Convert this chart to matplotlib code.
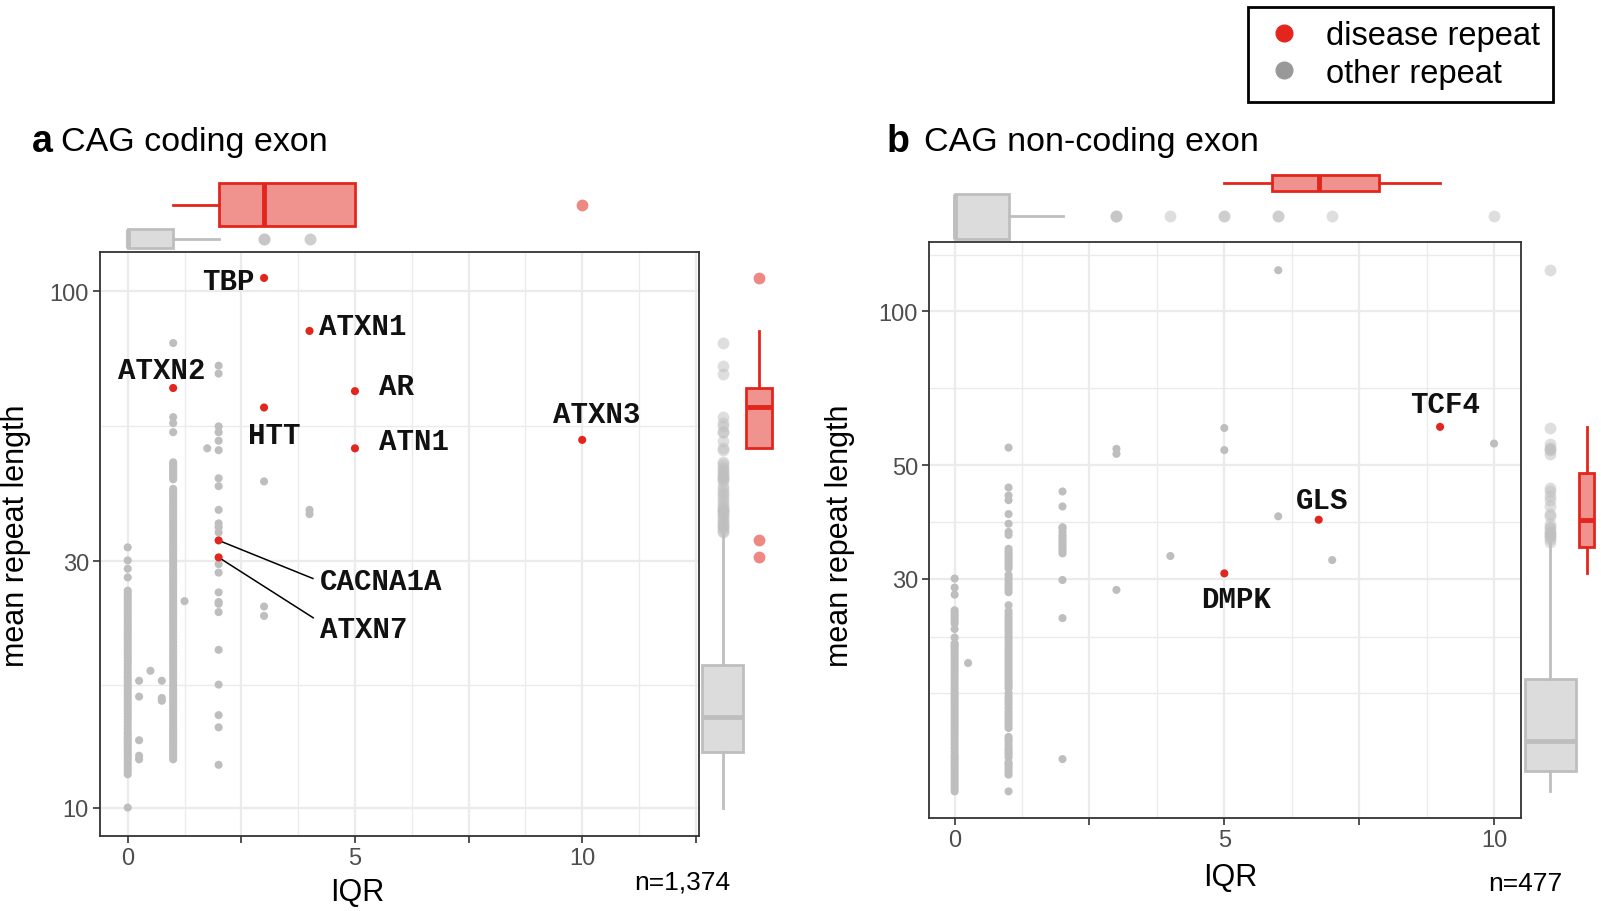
import numpy as np
import matplotlib
matplotlib.use("Agg")
import matplotlib.pyplot as plt
from matplotlib import cbook
from matplotlib.lines import Line2D
from matplotlib.ticker import FixedLocator, NullFormatter

plt.rcParams['font.family'] = ['Liberation Sans', 'DejaVu Sans']
NARROW = ['Liberation Sans Narrow', 'Liberation Sans', 'DejaVu Sans']

RED = '#E3261D'
GRAY = '#BEBEBE'

# ---- panel a: CAG coding exon ----
a_genes = ['TBP', 'ATXN1', 'ATXN2', 'AR', 'HTT', 'ATN1', 'ATXN3', 'CACNA1A', 'ATXN7']
a_iqr = [3, 4, 1, 5, 3, 5, 10, 2, 2]
a_len = [106, 83.7, 64.9, 64.0, 59.5, 49.6, 51.5, 32.9, 30.5]

# other repeats, IQR = 0 / 1 / 2 columns (mean repeat lengths)
a_col0 = [10.0, 11.6, 11.75, 11.9, 12.05, 12.2, 12.35, 12.5, 12.65, 12.8, 12.95, 13.1,
          13.25, 13.4, 13.55, 13.7, 13.85, 14.0, 14.2, 14.4, 14.6, 14.8, 15.0, 15.2, 15.4,
          15.6, 15.8, 16.0, 16.2, 16.4, 16.6, 16.8, 17.0, 17.2, 17.4, 17.6, 17.8, 18.0,
          18.25, 18.5, 18.75, 19.0, 19.25, 19.5, 19.75, 20.0, 20.25, 20.5, 20.75, 21.0,
          21.25, 21.5, 21.75, 22.0, 22.3, 22.6, 22.9, 23.2, 23.5, 23.8, 24.1, 24.4, 24.7,
          25.0, 25.3, 25.6, 25.95, 26.3, 27.9, 29.0, 30.1, 31.9]
a_col1 = [12.4, 12.55, 12.7, 12.85, 13.0, 13.15, 13.3, 13.45, 13.6, 13.75, 13.9, 14.05,
          14.2, 14.4, 14.6, 14.8, 15.0, 15.2, 15.4, 15.6, 15.8, 16.0, 16.2, 16.4, 16.6,
          16.8, 17.0, 17.25, 17.5, 17.75, 18.0, 18.25, 18.5, 18.75, 19.0, 19.25, 19.5,
          19.75, 20.0, 20.3, 20.6, 20.9, 21.2, 21.5, 21.8, 22.1, 22.4, 22.7, 23.0, 23.3,
          23.6, 23.9, 24.2, 24.5, 24.8, 25.15, 25.5, 25.85, 26.2, 26.55, 26.9, 27.25, 27.6,
          27.95, 28.3, 28.65, 29.0, 29.4, 29.8, 30.2, 30.6, 31.0, 31.4, 31.8, 32.2, 32.6,
          33.0, 33.45, 33.9, 34.35, 34.8, 35.25, 35.7, 36.15, 36.6, 37.05, 37.5, 37.95,
          38.4, 38.9, 39.4, 39.9, 40.4, 40.9, 41.4, 43.2, 43.6, 44.0, 44.4, 44.8, 45.25,
          45.7, 46.15, 46.6, 53.3, 55.5, 57.0, 79.3]
a_col2 = [71.7, 69.2, 54.7, 53.3, 51.3, 49.2, 43.4, 41.9, 37.7, 35.5, 34.9, 34.1, 29.6,
          28.5, 26.1, 25.0, 24.8, 23.9, 20.2, 17.3, 15.1, 14.3, 12.1]
a_misc_iqr = [0.25, 0.25, 0.25, 0.25, 0.25, 0.5, 0.75, 0.75, 0.75, 1.25, 1.75, 3, 3, 3, 4, 4]
a_misc_len = [17.6, 16.4, 13.5, 12.6, 12.4, 18.4, 17.6, 16.3, 16.1, 25.1, 49.6, 42.8, 24.5,
              23.5, 37.7, 37.0]
# other-repeat box summaries (q1, median, q3, low whisker, high whisker)
a_other_len_box = [12.8, 15.0, 18.9, 10.0, 34.0]
a_other_iqr_box = [0, 0, 1, 0, 2]

# ---- panel b: CAG non-coding exon ----
b_genes = ['TCF4', 'GLS', 'DMPK']
b_iqr = [9, 6.75, 5]
b_len = [59.4, 39.1, 30.7]

b_col0 = [11.5, 11.65, 11.8, 11.95, 12.1, 12.25, 12.4, 12.55, 12.7, 12.85, 13.0, 13.15,
          13.3, 13.45, 13.6, 13.8, 14.0, 14.2, 14.4, 14.6, 14.8, 15.0, 15.2, 15.4, 15.6,
          15.8, 16.0, 16.2, 16.4, 16.6, 16.8, 17.0, 17.2, 17.4, 17.6, 17.8, 18.0, 18.25,
          18.5, 18.75, 19.0, 19.25, 19.5, 19.75, 20.0, 20.25, 20.5, 20.75, 21.0, 21.25,
          21.5, 21.75, 22.0, 22.2, 22.4, 23.0, 23.9, 24.5, 24.8, 25.1, 25.4, 25.7, 26.0,
          27.9, 28.8, 30.0]
b_col1 = [11.5, 12.4, 12.55, 12.7, 12.85, 13.0, 13.1, 13.4, 13.55, 13.7, 13.85, 14.0,
          14.2, 14.4, 14.55, 14.7, 15.3, 15.5, 15.7, 15.9, 16.1, 16.3, 16.5, 16.75, 17.0,
          17.2, 17.4, 17.65, 17.9, 18.3, 18.5, 18.7, 18.9, 19.1, 19.35, 19.6, 19.85, 20.1,
          20.35, 20.6, 20.85, 21.1, 21.35, 21.6, 21.9, 22.2, 22.5, 22.8, 23.1, 23.4, 23.7,
          24.0, 24.3, 24.6, 24.9, 25.2, 25.55, 25.9, 26.6, 28.2, 28.55, 28.9, 29.3, 29.7,
          30.1, 30.5, 31.4, 31.75, 32.1, 32.45, 32.8, 33.15, 33.5, 33.9, 34.3, 36.5, 37.0,
          38.4, 40.1, 42.7, 43.6, 45.2, 54.1]
b_col2 = [13.3, 25.1, 29.8, 33.6, 34.0, 34.3, 34.65, 35.0, 35.4, 35.8, 36.15, 36.5,
          37.05, 37.6, 37.8, 41.5, 44.4]
b_misc_iqr = [0.25, 3, 3, 3, 4, 5, 5, 6, 6, 7, 10]
b_misc_len = [20.5, 53.8, 52.6, 28.5, 33.2, 59.1, 53.5, 120.3, 39.7, 32.6, 55.1]
b_other_len_box = [12.6, 14.4, 19.1, 11.5, 35.3]
b_other_iqr_box = [0, 0, 1, 0, 2]


def other_points(c0, c1, c2, miq, mlen):
    x = np.concatenate([np.zeros(len(c0)), np.ones(len(c1)), np.full(len(c2), 2.0), miq])
    y = np.concatenate([c0, c1, c2, mlen])
    return x, y


def stats_from_box(box, fl):
    q1, med, q3, lo, hi = box
    fl = np.asarray(fl, dtype=float)
    return dict(q1=q1, med=med, q3=q3, whislo=lo, whishi=hi, fliers=fl[(fl > hi) | (fl < lo)])


def red_stats(vals, log=False):
    v = np.log10(vals) if log else np.asarray(vals, dtype=float)
    s = cbook.boxplot_stats(v)[0]
    if log:
        for k in ['q1', 'med', 'q3', 'whislo', 'whishi']:
            s[k] = 10 ** s[k]
        s['fliers'] = 10 ** s['fliers']
    return s


def draw_box(ax, st, pos, width, red, orient):
    if red:
        fc, ec, fl = (0.89, 0.15, 0.11, 0.5), RED, (0.89, 0.15, 0.11, 0.55)
    else:
        fc, ec, fl = '#DCDCDC', GRAY, (0.75, 0.75, 0.75, 0.5)
    ax.bxp([st], positions=[pos], widths=[width], orientation=orient,
           patch_artist=True, showcaps=False,
           boxprops=dict(facecolor=fc, edgecolor=ec, linewidth=2),
           whiskerprops=dict(color=ec, linewidth=2),
           medianprops=dict(color=ec, linewidth=3.5),
           flierprops=dict(marker='o', markersize=8.5, markerfacecolor=fl,
                           markeredgecolor='none'))


def setup_main(ax, xlim, ylim, xmajor, ymajor, yminor):
    ax.set_yscale('log')
    ax.set_xlim(*xlim)
    ax.set_ylim(*ylim)
    ax.set_xticks(xmajor)
    ax.set_xticklabels([('%g' % t) if t in (0, 5, 10) else '' for t in xmajor],
                       fontfamily=NARROW, fontsize=17, color='#4D4D4D')
    ax.set_xticks([t + 1.25 for t in xmajor if t + 1.25 < xlim[1]], minor=True)
    ax.yaxis.set_major_locator(FixedLocator(ymajor))
    ax.set_yticks(ymajor)
    ax.set_yticklabels([str(t) for t in ymajor], fontfamily=NARROW, fontsize=17,
                       color='#4D4D4D')
    ax.yaxis.set_minor_locator(FixedLocator(yminor))
    ax.yaxis.set_minor_formatter(NullFormatter())
    ax.tick_params(which='major', direction='out', length=5, width=1.2, color='#333333', pad=3)
    ax.tick_params(which='minor', length=0)
    ax.grid(True, which='major', color='#EBEBEB', linewidth=1.6)
    ax.grid(True, which='minor', color='#EBEBEB', linewidth=1.0)
    ax.set_axisbelow(True)
    for sp in ax.spines.values():
        sp.set_color('#333333')
        sp.set_linewidth(1.3)


def label_genes(ax, genes, xs, ys, offsets):
    for g, x, y in zip(genes, xs, ys):
        dx, dy, ha, line = offsets[g]
        kw = {}
        if line:
            kw['arrowprops'] = dict(arrowstyle='-', color='black', lw=1.1,
                                    shrinkA=3, shrinkB=3, relpos=line)
        ax.annotate(g, (x, y), xytext=(dx, dy), textcoords='offset points', ha=ha,
                    va='center', fontfamily='Liberation Mono', fontweight='bold',
                    fontsize=21, color='#111111', **kw)


W, H = 1601, 912
fig = plt.figure(figsize=(W / 100, H / 100), dpi=100)


def fax(l, t, r, b, **kw):
    return fig.add_axes([l / W, 1 - b / H, (r - l) / W, (b - t) / H], **kw)


# panel a axes
ax_a = fax(100, 253, 699, 837)
ax_a_top = fax(100, 170, 699, 253, sharex=ax_a)
ax_a_right = fax(699, 253, 780, 837, sharey=ax_a)
# panel b axes
ax_b = fax(929, 243, 1521, 819)
ax_b_top = fax(929, 165, 1521, 243, sharex=ax_b)
ax_b_right = fax(1521, 243, 1601, 819, sharey=ax_b)

setup_main(ax_a, (-0.61, 12.57), (8.81, 119), [0, 2.5, 5, 7.5, 10, 12.5],
           [10, 30, 100], [17.3, 54.8])
setup_main(ax_b, (-0.475, 10.5), (10.2, 136.6), [0, 2.5, 5, 7.5, 10],
           [30, 50, 100], [17.9, 23.1, 38.7, 70.7, 129])

a_ox, a_oy = other_points(a_col0, a_col1, a_col2, a_misc_iqr, a_misc_len)
b_ox, b_oy = other_points(b_col0, b_col1, b_col2, b_misc_iqr, b_misc_len)

for ax, ox, oy, dx, dy in [(ax_a, a_ox, a_oy, a_iqr, a_len), (ax_b, b_ox, b_oy, b_iqr, b_len)]:
    ax.scatter(ox, oy, s=34, color=GRAY, edgecolors='none', zorder=2)
    ax.scatter(dx, dy, s=34, color=RED, edgecolors='none', zorder=3)

a_off = {
    'TBP': (-7, -2, 'right', None),
    'ATXN1': (6.6, 3.6, 'left', None),
    'ATXN2': (-8, 13, 'center', None),
    'AR': (17.6, 3.6, 'left', None),
    'HTT': (7.4, -19.9, 'center', None),
    'ATN1': (17.6, 5, 'left', None),
    'ATXN3': (10.3, 19, 'center', None),
    'CACNA1A': (72.8, -29.4, 'left', (0, 0.5)),
    'ATXN7': (72.8, -51.5, 'left', (0, 0.75)),
}
b_off = {
    'TCF4': (3.7, 16.2, 'center', None),
    'GLS': (2.2, 14, 'center', None),
    'DMPK': (8.8, -18.4, 'center', None),
}
label_genes(ax_a, a_genes, a_iqr, a_len, a_off)
label_genes(ax_b, b_genes, b_iqr, b_len, b_off)

# marginal boxplots
draw_box(ax_a_top, red_stats(a_iqr), 0.572, 0.518, True, 'horizontal')
draw_box(ax_a_top, stats_from_box(a_other_iqr_box, a_ox), 0.157, 0.229, False, 'horizontal')
draw_box(ax_a_right, red_stats(a_len, log=True), 0.741, 0.315, True, 'vertical')
draw_box(ax_a_right, stats_from_box(a_other_len_box, a_oy), 0.296, 0.506, False, 'vertical')

draw_box(ax_b_top, red_stats(b_iqr), 0.759, 0.21, True, 'horizontal')
draw_box(ax_b_top, stats_from_box(b_other_iqr_box, b_ox), 0.327, 0.577, False, 'horizontal')
draw_box(ax_b_right, red_stats(b_len, log=True), 0.82, 0.179, True, 'vertical')
draw_box(ax_b_right, stats_from_box(b_other_len_box, b_oy), 0.3625, 0.6375, False, 'vertical')

for ax in (ax_a_top, ax_b_top):
    ax.set_ylim(0, 1)
    ax.axis('off')
for ax in (ax_a_right, ax_b_right):
    ax.set_xlim(0, 1)
    ax.axis('off')

# titles and labels
fig.text(32 / W, 1 - 142 / H, 'a', fontsize=27, fontweight='bold', va='center')
fig.text(61 / W, 1 - 142 / H, 'CAG coding exon', fontsize=24.5, va='center')
fig.text(887 / W, 1 - 142 / H, 'b', fontsize=27, fontweight='bold', va='center')
fig.text(924 / W, 1 - 142 / H, 'CAG non-coding exon', fontsize=24.5, va='center')

fig.text(16 / W, 1 - 536 / H, 'mean repeat length', fontsize=22, rotation=90,
         ha='center', va='center')
fig.text(840 / W, 1 - 536 / H, 'mean repeat length', fontsize=22, rotation=90,
         ha='center', va='center')
fig.text(357 / W, 1 - 893 / H, 'IQR', fontsize=22, ha='center', va='center',
         fontfamily=NARROW)
fig.text(1230 / W, 1 - 878 / H, 'IQR', fontsize=22, ha='center', va='center',
         fontfamily=NARROW)
fig.text(730 / W, 1 - 883 / H, 'n=1,374', fontsize=19, ha='right', va='center',
         fontfamily=NARROW)
fig.text(1562 / W, 1 - 884 / H, 'n=477', fontsize=19, ha='right', va='center',
         fontfamily=NARROW)

handles = [Line2D([], [], marker='o', linestyle='', markersize=12, color=RED),
           Line2D([], [], marker='o', linestyle='', markersize=12, color='#999999')]
leg = fig.legend(handles, ['disease repeat', 'other repeat'], loc='upper right',
                 bbox_to_anchor=(1553 / W, 1 - 8 / H), fontsize=23.5, frameon=True,
                 fancybox=False, edgecolor='black', framealpha=1, borderpad=0.4,
                 labelspacing=0.2, handletextpad=0.6, handlelength=1.4,
                 borderaxespad=0)
leg.get_frame().set_linewidth(2)

fig.savefig('out.png', dpi=100)
